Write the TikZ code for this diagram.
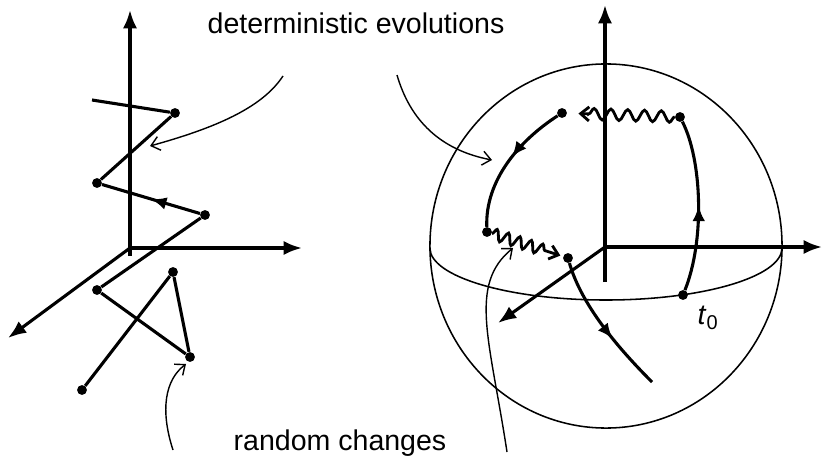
\documentclass[tikz,border=0pt]{standalone}
\usepackage{fontspec}
\setmainfont{Liberation Sans}
\usetikzlibrary{arrows.meta,decorations.pathmorphing,decorations.markings}

\begin{document}
\begin{tikzpicture}[
    x=0.025cm, y=-0.025cm,
    dot/.style={circle, fill=black, inner sep=0pt, minimum size=7pt},
    axis/.style={-{Latex[length=13pt,width=10pt]}, line width=2.2pt},
    track/.style={line width=2.2pt},
    mid arrow/.style={postaction={decorate}, decoration={markings, mark=at position #1 with {\arrow{Latex[length=11pt,width=9pt]}}}},
    mid arrow/.default=0.5,
    jump/.style={line width=2pt, decorate, decoration={snake, amplitude=1.4mm, segment length=#1, post length=4mm}, -{Straight Barb[length=6pt,width=10pt]}},
    jump/.default=4.2mm,
    pointer/.style={-{Straight Barb[length=6pt,width=10pt]}, line width=1pt},
    caption/.style={font=\fontsize{20.3}{24}\selectfont}
]
\useasboundingbox (0,0) rectangle (824,460);

% left: jumps only
\coordinate (l0) at (130,248);
\coordinate (lb) at (130,256);
\coordinate (lt) at (130,10);
\coordinate (lr) at (302,248);
\coordinate (lf) at (8,338);
\draw[axis] (lb) -- (lt);
\draw[axis] (l0) -- (lr);
\draw[axis] (l0) -- (lf);

\coordinate (w0) at (92,100);
\node[dot] (w1) at (175,113) {};
\node[dot] (w2) at (97,183) {};
\node[dot] (w3) at (205,215) {};
\node[dot] (w4) at (97,290) {};
\node[dot] (w5) at (190,357) {};
\node[dot] (w6) at (173,272) {};
\node[dot] (w7) at (82,390) {};
\draw[track] (w0) -- (w1) -- (w2);
\draw[track, mid arrow] (w3) -- (w2);
\draw[track] (w3) -- (w4) -- (w5) -- (w6) -- (w7);

% right: evolution on the sphere, broken by jumps
\coordinate (r0) at (605,247);
\coordinate (rb) at (605,282);
\coordinate (rt) at (605,5);
\coordinate (rr) at (822,247);
\coordinate (rf) at (498,323);
\draw[axis] (rb) -- (rt);
\draw[axis] (r0) -- (rr);
\draw[axis] (r0) -- (rf);
\draw[line width=1.1pt] (606,246) ellipse [x radius=4.4cm, y radius=4.55cm];
\draw[line width=1.1pt] (782,248) arc [start angle=0, end angle=-180, x radius=4.4cm, y radius=1.3cm];

\node[dot] (t0) at (683,295) {};
\node[dot] (p1) at (680,117) {};
\node[dot] (p2) at (562,113) {};
\node[dot] (p3) at (487,232) {};
\node[dot] (p4) at (568,258) {};
\coordinate (pe) at (652,382);
\draw[track, mid arrow] (t0) .. controls (705,240) and (702,160) .. (p1);
\draw[jump, shorten >=8pt] (p1) -- (p2);
\draw[track, mid arrow=0.45] (p2) .. controls (520,140) and (485,180) .. (p3);
\draw[jump=3mm, shorten >=2pt] (p3) -- (p4);
\draw[track, mid arrow=0.6] (p4) .. controls (580,300) and (610,340) .. (pe);

\node[caption] (tlab) at (708,318) {\textit{t}\textsubscript{0}};

% labels and pointers
\node[caption] (evo) at (356,23) {deterministic evolutions};
\node[caption] (chg) at (340,443) {random changes};

\coordinate (e1) at (283,76);
\coordinate (e1t) at (150,146);
\draw[pointer] (e1) .. controls (262,108) and (215,128) .. (e1t);
\coordinate (e2) at (397,75);
\coordinate (e2t) at (492,160);
\draw[pointer] (e2) .. controls (410,120) and (440,150) .. (e2t);
\coordinate (c1) at (173,450);
\coordinate (c1t) at (186,364);
\draw[pointer] (c1) .. controls (160,410) and (165,380) .. (c1t);
\coordinate (c2) at (507,452);
\coordinate (c2t) at (513,248);
\draw[pointer] (c2) .. controls (490,340) and (468,285) .. (c2t);
\end{tikzpicture}
\end{document}
